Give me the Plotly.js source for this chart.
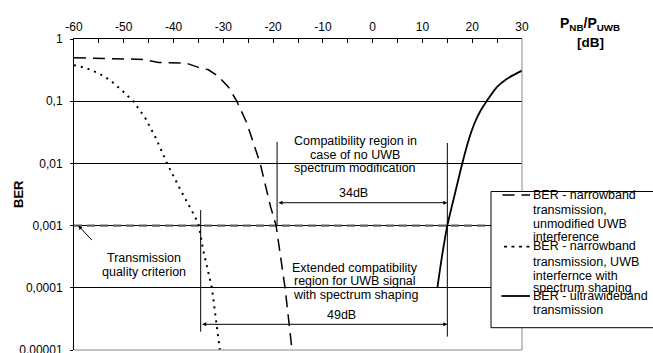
<!DOCTYPE html>
<html>
<head>
<meta charset="utf-8">
<script src="https://cdn.plot.ly/plotly-3.0.1.min.js"></script>
<style>html,body{margin:0;padding:0;background:#fff;}#chart{width:653px;height:353px;}</style>
</head>
<body>
<div id="chart"></div>
<script>
// ---- data ----
const unmodX = [-60, -55, -50, -46, -43, -40, -37.5, -35, -33, -31, -29, -27.3, -25.3, -22.6, -20.5, -19.4, -17.6, -16.2];
const unmodY = [0.5, 0.49, 0.47, 0.47, 0.42, 0.41, 0.41, 0.35, 0.32, 0.25, 0.17, 0.1, 0.045, 0.01, 0.002, 0.001, 0.0001, 0.00001];

const shapedX = [-60, -57.5, -55, -52.8, -50.4, -48.1, -45.7, -43.5, -41.3, -38.5, -35.7, -34.9, -34.1, -32.3, -30.7];
const shapedY = [0.38, 0.34, 0.28, 0.22, 0.15, 0.1, 0.054, 0.025, 0.01, 0.0036, 0.0014, 0.001, 0.00042, 0.0001, 0.00001];

const uwbX = [13, 14, 15, 16.5, 18, 19.3, 20.5, 21.7, 22.9, 25, 27, 30];
const uwbY = [0.0001, 0.00035, 0.001, 0.0032, 0.01, 0.024, 0.045, 0.071, 0.1, 0.17, 0.23, 0.31];

const criterionX = [-60, 30];
const criterionY = [0.001, 0.001];

// guide lines (compatibility region limits)
const guide1X = [-19.2, -19.2];  const guide1Y = [0.0221, 0.001];
const guide2X = [15, 15];        const guide2Y = [0.0213, 0.0000164];
const guide3X = [-34.55, -34.55]; const guide3Y = [0.00178, 0.0000197];

const xTickVals = [-60, -50, -40, -30, -20, -10, 0, 10, 20, 30];
const xTickText = ["-60", "-50", "-40", "-30", "-20", "-10", "0", "10", "20", "30"];
const yTickVals = [1, 0.1, 0.01, 0.001, 0.0001, 0.00001];
const yTickText = ["1", "0,1", "0,01", "0,001", "0,0001", "0,00001"];

const legendNames = [
  ["BER - narrowband", "transmission,", "unmodified UWB", "interference"],
  ["BER - narrowband", "transmission, UWB", "interfernce with", "spectrum shaping"],
  ["BER - ultrawideband", "transmission"]
];

// ---- rendering ----
const FONT = "Liberation Sans, Arial, sans-serif";
const px2x = p => (p - 74) / 448;      // pixel -> paper x
const py2y = p => (350 - p) / 311;     // pixel -> paper y

const traces = [
  {x: guide1X, y: guide1Y, mode: 'lines', line: {color: '#000', width: 1}, hoverinfo: 'skip'},
  {x: guide2X, y: guide2Y, mode: 'lines', line: {color: '#000', width: 1}, hoverinfo: 'skip'},
  {x: guide3X, y: guide3Y, mode: 'lines', line: {color: '#000', width: 1}, hoverinfo: 'skip'},
  {x: criterionX, y: criterionY, mode: 'lines', line: {color: '#606060', width: 2.2, dash: '8px,5px'}, hoverinfo: 'skip'},
  {x: unmodX, y: unmodY, mode: 'lines', name: legendNames[0].join(' '), line: {color: '#000', width: 1.5, dash: '12px,7px'}},
  {x: shapedX, y: shapedY, mode: 'lines', name: legendNames[1].join(' '), line: {color: '#000', width: 2, dash: '2px,5px'}},
  {x: uwbX, y: uwbY, mode: 'lines', name: legendNames[2].join(' '), line: {color: '#000', width: 1.8, shape: 'spline', smoothing: 0.8}}
];

const txt = (text, x, y, extra) => Object.assign({
  text: text, x: x, y: y, xref: 'x', yref: 'y', showarrow: false,
  xanchor: 'center', yanchor: 'middle', font: {family: FONT, size: 12.5, color: '#000'}
}, extra || {});

const annotations = [
  txt('Compatibility region in', -3.45, -1.645),
  txt('case of no UWB', -3.45, -1.862),
  txt('spectrum modification', -3.45, -2.08),
  txt('34dB', -3.9, -2.48),
  txt('Extended compatibility', -3.55, -3.68),
  txt('region for UWB signal', -3.55, -3.89),
  txt('with spectrum shaping', -3.55, -4.116),
  txt('49dB', -6.2, -4.437),
  txt('Transmission', -46.0, -3.52),
  txt('quality criterion', -46.0, -3.746),
  // double arrows
  {x: 15, y: -2.632, ax: -19.2, ay: -2.632, xref: 'x', yref: 'y', axref: 'x', ayref: 'y', text: '',
   showarrow: true, arrowside: 'end+start', arrowhead: 2, arrowsize: 0.8, arrowwidth: 1, arrowcolor: '#000', standoff: 0, startstandoff: 0},
  {x: 15, y: -4.587, ax: -34.55, ay: -4.587, xref: 'x', yref: 'y', axref: 'x', ayref: 'y', text: '',
   showarrow: true, arrowside: 'end+start', arrowhead: 2, arrowsize: 0.8, arrowwidth: 1, arrowcolor: '#000', standoff: 0, startstandoff: 0},
  // criterion pointer
  {x: -59.14, y: -3, xref: 'x', yref: 'y', ax: 15, ay: 16, text: '', showarrow: true,
   arrowhead: 2, arrowsize: 0.8, arrowwidth: 1, arrowcolor: '#000', standoff: 0},
  // axis titles
  {text: '<b>P<sub>NB</sub>/P<sub>UWB</sub></b>', xref: 'paper', yref: 'paper', x: px2x(590), y: py2y(24),
   showarrow: false, xanchor: 'center', yanchor: 'middle', font: {family: FONT, size: 14, color: '#000'}},
  {text: '<b>[dB]</b>', xref: 'paper', yref: 'paper', x: px2x(590), y: py2y(43),
   showarrow: false, xanchor: 'center', yanchor: 'middle', font: {family: FONT, size: 13.5, color: '#000'}},
  {text: '<b>BER</b>', xref: 'paper', yref: 'paper', x: px2x(18), y: py2y(194), textangle: -90,
   showarrow: false, xanchor: 'center', yanchor: 'middle', font: {family: FONT, size: 13, color: '#000'}}
];

// legend texts
const legendRows = [[195, 209.5, 223.5, 237.5], [246, 261.5, 275.5, 287.5], [295.5, 310]];
legendNames.forEach((lines, i) => {
  lines.forEach((line, j) => {
    annotations.push({text: line, xref: 'paper', yref: 'paper', x: px2x(530.5), y: py2y(legendRows[i][j]),
      showarrow: false, xanchor: 'left', yanchor: 'middle', font: {family: FONT, size: 12.5, color: '#000'}});
  });
});

const shapes = [
  {type: 'line', xref: 'paper', yref: 'paper', x0: 0, x1: 1, y0: 0, y1: 0, line: {color: '#8a8a8a', width: 1}, layer: 'above'},
  {type: 'line', xref: 'paper', yref: 'paper', x0: 1, x1: 1, y0: 0, y1: 1, line: {color: '#8a8a8a', width: 1}, layer: 'above'},
  {type: 'rect', xref: 'paper', yref: 'paper', x0: px2x(491), x1: px2x(668), y0: py2y(327.7), y1: py2y(191.5),
   fillcolor: '#fff', line: {color: '#000', width: 1}, layer: 'above'},
  {type: 'line', xref: 'paper', yref: 'paper', x0: px2x(502.5), x1: px2x(530), y0: py2y(195), y1: py2y(195),
   line: {color: '#000', width: 1.5, dash: '12px,7px'}, layer: 'above'},
  {type: 'line', xref: 'paper', yref: 'paper', x0: px2x(504), x1: px2x(530), y0: py2y(246.7), y1: py2y(246.7),
   line: {color: '#000', width: 1.8, dash: '3px,4.5px'}, layer: 'above'},
  {type: 'line', xref: 'paper', yref: 'paper', x0: px2x(501.5), x1: px2x(530), y0: py2y(296), y1: py2y(296),
   line: {color: '#000', width: 1.8}, layer: 'above'}
];

const layout = {
  width: 653, height: 353,
  margin: {l: 74, r: 131, t: 39, b: 3, pad: 0},
  paper_bgcolor: '#fff', plot_bgcolor: '#fff',
  showlegend: false,
  font: {family: FONT, size: 12, color: '#000'},
  xaxis: {
    side: 'top', range: [-60, 30], tickvals: xTickVals, ticktext: xTickText,
    ticks: 'inside', ticklen: 4, tickwidth: 1, tickcolor: '#000',
    minor: {dtick: 5, tick0: -60, ticks: 'inside', ticklen: 4, tickcolor: '#000', showgrid: false},
    showline: true, linecolor: '#000', linewidth: 1,
    showgrid: false, zeroline: false, ticklabelstandoff: 2,
    tickfont: {family: FONT, size: 12, color: '#000'}
  },
  yaxis: {
    type: 'log', range: [-5, 0],
    tickvals: yTickVals, ticktext: yTickText,
    ticks: 'outside', ticklen: 3, tickcolor: '#000',
    showline: true, linecolor: '#000', linewidth: 1,
    showgrid: true, gridcolor: '#000', gridwidth: 1, zeroline: false,
    ticklabelstandoff: 5, ticklabeloverflow: 'allow',
    tickfont: {family: FONT, size: 12, color: '#000'}
  },
  annotations: annotations,
  shapes: shapes
};

Plotly.newPlot('chart', traces, layout, {staticPlot: true, displayModeBar: false});
</script>
</body>
</html>
